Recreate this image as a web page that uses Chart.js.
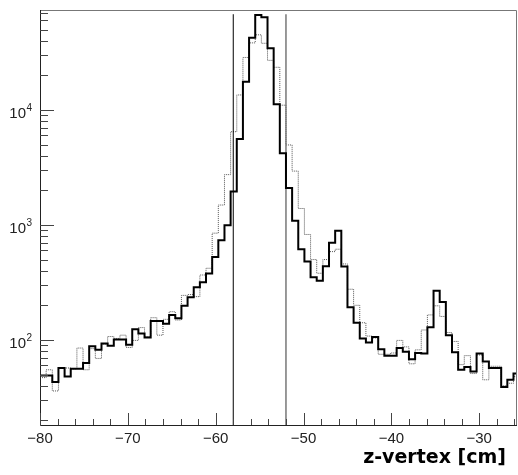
<!DOCTYPE html>
<html>
<head>
<meta charset="utf-8">
<script src="https://cdn.jsdelivr.net/npm/chart.js@4.4.0/dist/chart.umd.min.js"></script>
<style>
  html, body { margin: 0; padding: 0; background: #fff; }
  #wrap { width: 518px; height: 475px; }
</style>
</head>
<body>
<div id="wrap"><canvas id="c" width="518" height="475"></canvas></div>
<script>
// binning of the z-vertex histograms (cm)
const BIN_LOW = -80;
const BIN_WIDTH = 0.7;

// counts per bin, thick solid histogram
const zvtxSolid = [
    49, 49, 43, 57, 48, 56, 56, 63, 88, 82,
    93, 89, 101, 101, 91, 124, 114, 105, 146, 146,
    138, 165, 154, 198, 235, 287, 318, 378, 527, 736,
    993, 1950, 5580, 17600, 42500, 67000, 64000, 34400, 11200, 4200,
    2100, 1090, 615, 480, 350, 327, 437, 700, 890, 434,
    192, 141, 103, 95, 106, 83, 73, 73, 85, 79,
    68, 77, 76, 129, 268, 214, 110, 78, 55, 58,
    53, 76, 65, 57, 57, 39, 45, 51
];
// counts per bin, dotted histogram
const zvtxDotted = [
    47, 55, 36, 57, 57, 56, 85, 55, 84, 69,
    92, 107, 103, 110, 86, 99, 128, 107, 156, 110,
    151, 176, 149, 244, 248, 238, 367, 420, 848, 1490,
    2740, 6470, 13500, 28600, 38300, 45000, 38000, 27000, 23500, 11000,
    4960, 2940, 1390, 826, 500, 380, 500, 586, 615, 458,
    276, 200, 141, 108, 104, 75, 75, 77, 99, 87,
    62, 82, 122, 165, 198, 160, 116, 97, 61, 73,
    51, 74, 45, 59, 59, 40, 42, 48
];

// vertical cut lines (cm) and their top (counts)
const cuts = [-58, -52];
const CUT_TOP = 68000;

const xLabelTicks = [-80, -70, -60, -50, -40, -30];
const yLabelTicks = [100, 1000, 10000];
const X_MIN = -80, X_MAX = -25.7;
const Y_MIN = 18.2, Y_MAX = 74000;

function histPoints(vals) {
    let pts = vals.map((v, i) => ({ x: BIN_LOW + i * BIN_WIDTH, y: v }));
    pts.push({ x: BIN_LOW + vals.length * BIN_WIDTH, y: vals[vals.length - 1] });
    return pts;
}

function cutLine(x, color, width) {
    return {
        data: [{ x: x, y: Y_MIN }, { x: x, y: CUT_TOP }],
        borderColor: color,
        borderWidth: width,
        pointRadius: 0,
        fill: false,
    };
}

// frame, inward ticks, y labels with exponents, axis title
const frame = {
    id: 'frame',
    afterDraw(chart) {
        const { ctx, chartArea: a } = chart;
        const x = chart.scales.x, y = chart.scales.y;
        ctx.save();

        ctx.lineWidth = 1;
        ctx.strokeStyle = '#777';
        ctx.beginPath();
        ctx.moveTo(a.left, a.top + 0.5);
        ctx.lineTo(a.right - 0.5, a.top + 0.5);
        ctx.lineTo(a.right - 0.5, a.bottom);
        ctx.stroke();

        ctx.strokeStyle = '#222';
        ctx.beginPath();
        ctx.moveTo(a.left + 0.5, a.top);
        ctx.lineTo(a.left + 0.5, a.bottom + 0.5);
        ctx.lineTo(a.right, a.bottom + 0.5);
        ctx.stroke();

        ctx.strokeStyle = '#444';
        ctx.beginPath();
        for (let v = X_MIN; v <= X_MAX; v += 2) {
            const px = Math.round(x.getPixelForValue(v)) + 0.5;
            const len = (v % 10 === 0) ? 12 : 6;
            ctx.moveTo(px, a.bottom);
            ctx.lineTo(px, a.bottom - len);
        }
        for (let d = 10; d <= 1e5; d *= 10) {
            for (let m = 1; m <= 9; m++) {
                const v = d * m;
                if (v < Y_MIN || v > Y_MAX) continue;
                const py = Math.round(y.getPixelForValue(v)) + 0.5;
                const len = (m === 1) ? 14 : 8;
                ctx.moveTo(a.left, py);
                ctx.lineTo(a.left + len, py);
            }
        }
        ctx.stroke();

        ctx.fillStyle = '#222';
        yLabelTicks.forEach(v => {
            const py = y.getPixelForValue(v);
            ctx.font = '15px "Liberation Sans", Arial, sans-serif';
            ctx.textAlign = 'right';
            ctx.textBaseline = 'alphabetic';
            ctx.fillText('10', 26, py + 8);
            ctx.font = '10px "Liberation Sans", Arial, sans-serif';
            ctx.textAlign = 'left';
            ctx.fillText(String(Math.round(Math.log10(v))), 26.5, py + 1.5);
        });

        ctx.fillStyle = '#000';
        ctx.font = 'bold 19px "DejaVu Sans", sans-serif';
        ctx.textAlign = 'right';
        ctx.fillText('z-vertex [cm]', 506, 463);
        ctx.restore();
    }
};

new Chart(document.getElementById('c'), {
    type: 'line',
    data: {
        datasets: [
            {
                data: histPoints(zvtxSolid),
                borderColor: '#000',
                borderWidth: 2,
                stepped: 'before',
                pointRadius: 0,
                fill: false,
            },
            cutLine(cuts[0], '#000', 1),
            cutLine(cuts[1], '#777', 1.5),
            {
                data: histPoints(zvtxDotted),
                borderColor: '#555',
                borderWidth: 1,
                borderDash: [1, 1],
                stepped: 'before',
                pointRadius: 0,
                fill: false,
            },
        ]
    },
    options: {
        responsive: false,
        animation: false,
        events: [],
        layout: { padding: { top: 10, right: 1, left: 0, bottom: 0 } },
        plugins: { legend: { display: false }, tooltip: { enabled: false } },
        scales: {
            x: {
                type: 'linear',
                min: X_MIN,
                max: X_MAX,
                grid: { display: false, drawTicks: false },
                border: { display: false },
                afterBuildTicks: (s) => { s.ticks = xLabelTicks.map(v => ({ value: v })); },
                afterFit: (s) => { s.height = 50; },
                ticks: {
                    padding: 5,
                    maxRotation: 0,
                    autoSkip: false,
                    color: '#222',
                    font: { family: '"Liberation Sans", Arial, sans-serif', size: 15 },
                    callback: (v) => String(v).replace('-', '\u2212'),
                }
            },
            y: {
                type: 'logarithmic',
                min: Y_MIN,
                max: Y_MAX,
                grid: { display: false, drawTicks: false },
                border: { display: false },
                afterBuildTicks: (s) => { s.ticks = yLabelTicks.map(v => ({ value: v })); },
                afterFit: (s) => { s.width = 40; },
                ticks: { display: false }
            }
        }
    },
    plugins: [frame]
});
</script>
</body>
</html>
